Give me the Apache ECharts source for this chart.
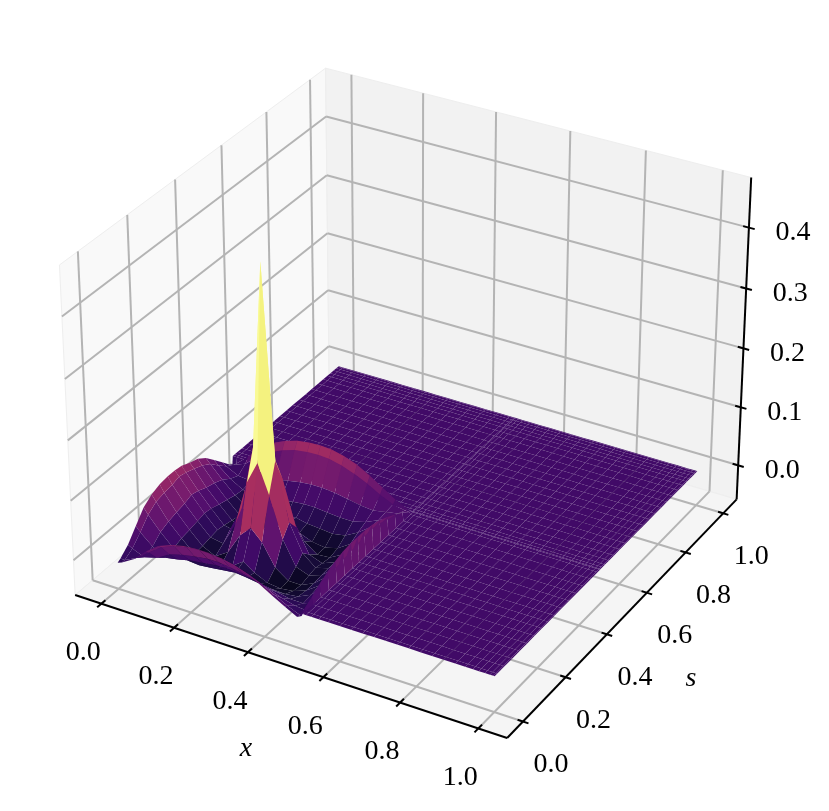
<!DOCTYPE html>
<html>
<head>
<meta charset="utf-8">
<style>
  html, body { margin: 0; padding: 0; background: #fff; }
  #main { width: 829px; height: 811px; }
</style>
<script src="https://cdn.jsdelivr.net/npm/echarts@6/dist/echarts.min.js"></script>
</head>
<body>
<div id="main"></div>
<script>
// mesh nodes, the bump lives on the first 17 of them (0..0.5)
var xNodes = [0, .012, .045, .08, .115, .15, .185, .22, .25, .28, .315, .35, .385, .42, .455, .488, .5,
  .503, .512, .525, .545, .57, .6, .63, .66, .69, .72, .75, .78, .81, .84, .87, .9, .925, .945, .96, .975, .988, .997, 1];
var sNodes = [0, .012, .045, .08, .115, .15, .185, .22, .25, .28, .315, .35, .385, .42, .455, .488, .5,
  .503, .512, .525, .545, .57, .6, .63, .66, .69, .72, .75, .78, .81, .84, .87, .9, .925, .945, .96, .975, .988, .997, 1];
// z, rows go with s, columns with x
var zBump = [
  [-.015,-.012,0,.02,.036,.045,.05,.052,.052,.05,.045,.038,.028,.015,.003,-.008,-.004],
  [-.012,-.012,-.002,.014,.03,.039,.044,.046,.046,.044,.039,.032,.023,.011,0,-.009,.004],
  [0,-.004,-.012,-.006,.007,.013,.017,.02,.02,.018,.014,.009,.002,-.006,-.012,-.014,.012],
  [.02,.012,-.006,-.018,-.014,-.009,-.006,-.003,-.002,-.004,-.007,-.011,-.015,-.02,-.02,-.012,.022],
  [.04,.03,.007,-.014,-.027,-.029,-.027,-.024,-.022,-.024,-.027,-.03,-.031,-.028,-.018,.002,.03],
  [.05,.04,.013,-.009,-.029,-.04,-.038,-.028,-.015,-.028,-.038,-.041,-.038,-.03,-.015,.012,.036],
  [.056,.044,.017,-.006,-.027,-.038,-.024,.012,.03,.012,-.024,-.04,-.04,-.03,-.012,.016,.04],
  [.058,.046,.02,-.003,-.024,-.028,.012,.09,.128,.08,.012,-.028,-.036,-.028,-.01,.018,.042],
  [.058,.05,.025,0,-.022,-.015,.03,.14,.447,.128,.03,-.015,-.033,-.027,-.008,.02,.042],
  [.056,.047,.022,-.002,-.024,-.028,.012,.087,.128,.087,.012,-.028,-.036,-.027,-.006,.022,.042],
  [.05,.042,.016,-.006,-.027,-.039,-.024,.012,.03,.012,-.024,-.04,-.038,-.026,-.004,.024,.04],
  [.045,.036,.012,-.01,-.03,-.041,-.038,-.028,-.015,-.028,-.037,-.04,-.034,-.02,0,.024,.036],
  [.035,.027,.006,-.014,-.03,-.034,-.031,-.026,-.02,-.024,-.026,-.028,-.024,-.012,.004,.02,.03],
  [.02,.013,-.004,-.016,-.022,-.02,-.015,-.01,-.008,-.008,-.01,-.012,-.012,-.006,.004,.014,.022],
  [.005,0,-.01,-.012,-.006,.002,.008,.012,.014,.014,.012,.008,.004,.002,.006,.01,.014],
  [-.01,-.008,0,.018,.033,.043,.05,.053,.054,.053,.048,.04,.03,.018,.008,.004,.004],
  [-.015,-.01,.008,.03,.045,.055,.062,.065,.066,.065,.06,.052,.04,.026,.012,.002,0]
];
var xTicks = ['0.0', '0.2', '0.4', '0.6', '0.8', '1.0'];
var sTicks = ['0.0', '0.2', '0.4', '0.6', '0.8', '1.0'];
var zTicks = ['0.0', '0.1', '0.2', '0.3', '0.4'];
var xLim = [-.0729, 1.0729];
var sLim = [-.0729, 1.0729];
var zLim = [-.0595, .4811];
var colorMin = -.05, colorMax = .205;
var inferno = ['#000004','#0b0724','#1b0c41','#2f0a5b','#420a68','#57106e','#6a176e','#7f1e6c','#932667','#a82e5f',
  '#bc3754','#cc4248','#dd513a','#e8602d','#f37819','#f98e09','#fca50a','#fbba1f','#f6d746','#f1ed71','#fcffa4'];

// same camera as a default mplot3d axes: elev 30, azim -60, dist 10
var BOX = [1.1905, 1.1905, .8929];
var U = [.866, .5, 0], V = [-.25, .433, .866], W = [.433, -.75, .5];
function dot(a, b) { return a[0]*b[0] + a[1]*b[1] + a[2]*b[2]; }
function frac(v, lim) { return (v - lim[0]) / (lim[1] - lim[0]); }
function project(fx, fs, fz) {
  var p = [(fx - .5)*BOX[0], (fs - .5)*BOX[1], (fz - .5)*BOX[2]];
  var d = 10 - dot(W, p);
  return { x: 412 + 4157*dot(U, p)/d, y: 387 - 4213*dot(V, p)/d, d: d };
}
function pt(x, s, z) { return project(frac(x, xLim), frac(s, sLim), frac(z, zLim)); }
function zAt(i, j) { return (j < zBump.length && i < zBump[0].length) ? zBump[j][i] : 0; }

// cells far to near, painter style
var cells = [];
for (var j = 0; j < sNodes.length - 1; j++) {
  for (var i = 0; i < xNodes.length - 1; i++) {
    var corners = [[i, j], [i + 1, j], [i + 1, j + 1], [i, j + 1]];
    var zs = 0, ds = 0;
    corners.forEach(function (c) {
      var zz = zAt(c[0], c[1]);
      zs += zz;
      ds += pt(xNodes[c[0]], sNodes[c[1]], zz).d;
    });
    cells.push({ corners: corners, zAvg: zs/4, depth: ds/4 });
  }
}
cells.sort(function (a, b) { return b.depth - a.depth; });

function cellColor(z) {
  var t = Math.max(0, Math.min(1, (z - colorMin)/(colorMax - colorMin)));
  return echarts.color.lerp(t, inferno);
}

// box stuff in 0..1 box fractions
var gridLines = [];
xTicks.forEach(function (t) {
  var f = frac(+t, xLim);
  gridLines.push([[f, 0, 0], [f, 1, 0]], [[f, 1, 0], [f, 1, 1]]);
});
sTicks.forEach(function (t) {
  var f = frac(+t, sLim);
  gridLines.push([[1, f, 0], [0, f, 0]], [[0, f, 0], [0, f, 1]]);
});
zTicks.forEach(function (t) {
  var f = frac(+t, zLim);
  gridLines.push([[0, 0, f], [0, 1, f]], [[0, 1, f], [1, 1, f]]);
});

var axisLines = [
  [[0, 0, 0], [1, 0, 0]],
  [[1, 0, 0], [1, 1, 0]],
  [[1, 1, 0], [1, 1, 1]]
];
xTicks.forEach(function (t) {
  var f = frac(+t, xLim);
  axisLines.push([[f, -.015, 0], [f, .015, 0]]);
});
sTicks.forEach(function (t) {
  var f = frac(+t, sLim);
  axisLines.push([[1 - .012, f, 0], [1 + .012, f, 0]]);
});
zTicks.forEach(function (t) {
  var f = frac(+t, zLim);
  axisLines.push([[1 - .013, 1, f], [1 + .013, 1, f]]);
});

var panes = [
  { fill: '#f9f9f9', pts: [[0, 0, 0], [0, 1, 0], [0, 1, 1], [0, 0, 1]] },
  { fill: '#f2f2f2', pts: [[0, 1, 0], [1, 1, 0], [1, 1, 1], [0, 1, 1]] },
  { fill: '#f5f5f5', pts: [[0, 0, 0], [1, 0, 0], [1, 1, 0], [0, 1, 0]] }
];

var labels = [];
xTicks.forEach(function (t) {
  var p = project(frac(+t, xLim), 0, 0);
  labels.push({ text: t, x: p.x - 18, y: p.y + 49 });
});
sTicks.forEach(function (t) {
  var p = project(1, frac(+t, sLim), 0);
  labels.push({ text: t, x: p.x + 28, y: p.y + 43 });
});
zTicks.forEach(function (t) {
  var p = project(1, 1, frac(+t, zLim));
  labels.push({ text: t, x: p.x + 44, y: p.y + 5 });
});
labels.push({ text: 'x', x: 246, y: 749, italic: true });
labels.push({ text: 's', x: 691, y: 679, italic: true });

function screen(api, p) { return api.coord([p.x, p.y]); }
function boxPoint(api, b) { return screen(api, project(b[0], b[1], b[2])); }

function layer(name, list, draw, z) {
  return {
    type: 'custom',
    name: name,
    coordinateSystem: 'cartesian2d',
    silent: true,
    z: z,
    animation: false,
    data: list.map(function (_, k) { return [k, 0]; }),
    renderItem: function (params, api) { return draw(list[params.dataIndex], api); }
  };
}
function drawLine(color, width) {
  return function (seg, api) {
    var a = boxPoint(api, seg[0]), b = boxPoint(api, seg[1]);
    return { type: 'line', shape: { x1: a[0], y1: a[1], x2: b[0], y2: b[1] },
      style: { stroke: color, lineWidth: width, lineCap: 'butt' } };
  };
}

var chart = echarts.init(document.getElementById('main'), null, { renderer: 'canvas' });
chart.setOption({
  animation: false,
  backgroundColor: '#fff',
  grid: { left: 0, top: 0, width: 829, height: 811 },
  xAxis: { type: 'value', min: 0, max: 829, show: false },
  yAxis: { type: 'value', min: 0, max: 811, inverse: true, show: false },
  series: [
    layer('panes', panes, function (pane, api) {
      return { type: 'polygon',
        shape: { points: pane.pts.map(function (b) { return boxPoint(api, b); }) },
        style: { fill: pane.fill, stroke: '#eeeeee', lineWidth: 1 } };
    }, 1),
    layer('grid', gridLines, drawLine('#b4b4b4', 2), 2),
    layer('axes', axisLines, drawLine('#000', 2), 3),
    layer('surface', cells, function (cell, api) {
      return { type: 'polygon',
        shape: { points: cell.corners.map(function (c) {
          return screen(api, pt(xNodes[c[0]], sNodes[c[1]], zAt(c[0], c[1])));
        }) },
        style: { fill: cellColor(cell.zAvg) } };
    }, 4),
    layer('labels', labels, function (l, api) {
      var p = api.coord([l.x, l.y]);
      return { type: 'text', x: p[0], y: p[1],
        style: { text: l.text, fontFamily: 'Liberation Serif', fontStyle: l.italic ? 'italic' : 'normal',
          fontSize: 28, fill: '#000', align: 'center', verticalAlign: 'middle' } };
    }, 5)
  ]
});
</script>
</body>
</html>
